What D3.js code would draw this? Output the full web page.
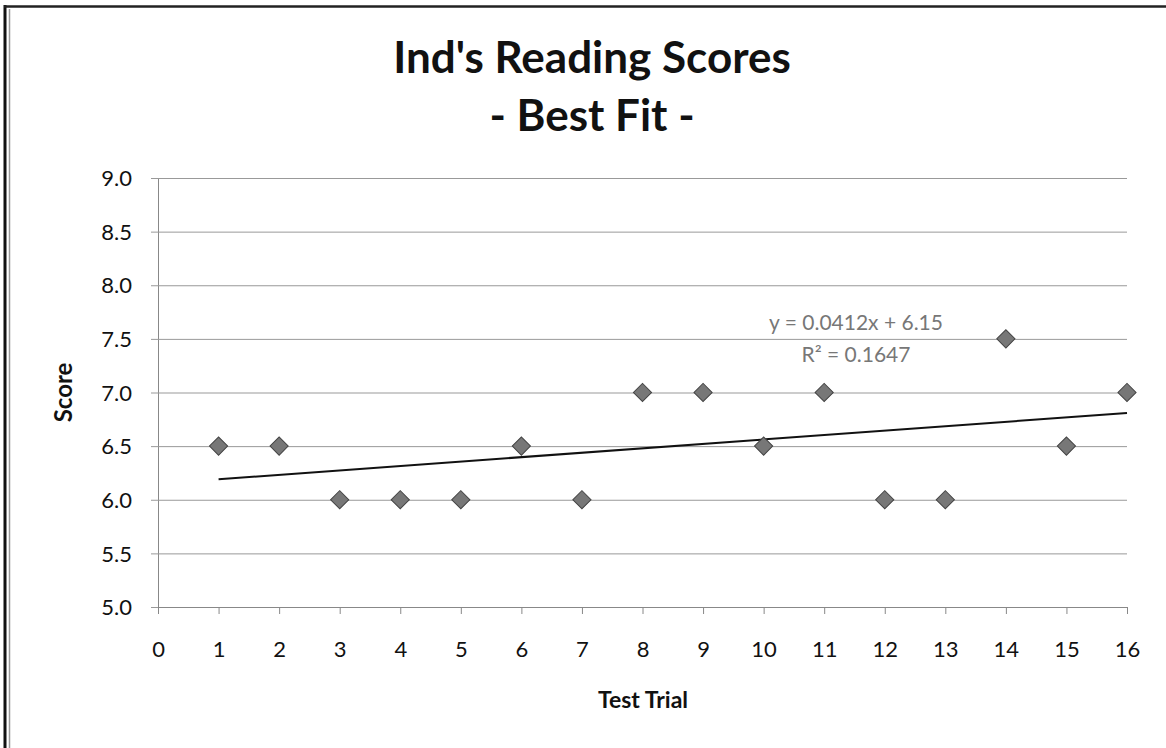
<!DOCTYPE html>
<html>
<head>
<meta charset="utf-8">
<script src="https://cdn.jsdelivr.net/npm/d3@7"></script>
<style>
  body { margin: 0; background: #fff; }
  text { font-family: Lato, "Open Sans", sans-serif; }
</style>
</head>
<body>
<div id="chart"></div>
<script>
// data
var trials = [1, 2, 3, 4, 5, 6, 7, 8, 9, 10, 11, 12, 13, 14, 15, 16];
var scores = [6.5, 6.5, 6.0, 6.0, 6.0, 6.5, 6.0, 7.0, 7.0, 6.5, 7.0, 6.0, 6.0, 7.5, 6.5, 7.0];
var yTicks = [5.0, 5.5, 6.0, 6.5, 7.0, 7.5, 8.0, 8.5, 9.0];
var xTicks = [0, 1, 2, 3, 4, 5, 6, 7, 8, 9, 10, 11, 12, 13, 14, 15, 16];
var slope = 0.0412, intercept = 6.15;
var eqLines = ["y = 0.0412x + 6.15", "R² = 0.1647"];
var titleLines = ["Ind's Reading Scores", "- Best Fit -"];

var W = 1166, H = 748;
var margin = {top: 178, right: 39, bottom: 141, left: 158},
    width = W - margin.left - margin.right,
    height = H - margin.top - margin.bottom;

var root = d3.select("#chart")
    .append("svg")
    .attr("width", W)
    .attr("height", H);

// frame (only left and top edges show in the scan)
root.append("line").attr("x1", 5).attr("y1", 5).attr("x2", 5).attr("y2", H)
    .attr("stroke", "#111").attr("stroke-width", 3);
root.append("line").attr("x1", 9.5).attr("y1", 9).attr("x2", 9.5).attr("y2", H)
    .attr("stroke", "#999").attr("stroke-width", 1.5);
root.append("line").attr("x1", 4).attr("y1", 6.5).attr("x2", W).attr("y2", 6.5)
    .attr("stroke", "#222").attr("stroke-width", 2.5);

var svg = root.append("g")
    .attr("transform", "translate(" + margin.left + "," + margin.top + ")");

var x = d3.scaleLinear().domain([0, 16]).range([0, width]);
var y = d3.scaleLinear().domain([5, 9]).range([height, 0]);

// gridlines + y axis
svg.append("g")
    .call(d3.axisLeft(y).tickValues(yTicks).tickSize(-width).tickFormat(d3.format(".1f")))
    .call(function (g) {
        g.select(".domain").attr("stroke", "#888");
        g.selectAll(".tick line").attr("stroke", "#999").attr("x1", -7);
        g.selectAll(".tick text").attr("font-size", 22).attr("fill", "#111")
            .attr("x", -26).attr("dy", "0.35em");
    });

// x axis
svg.append("g")
    .attr("transform", "translate(0," + height + ")")
    .call(d3.axisBottom(x).tickValues(xTicks).tickSize(7).tickPadding(27))
    .call(function (g) {
        g.select(".domain").attr("stroke", "#888");
        g.selectAll(".tick line").attr("stroke", "#888");
        g.selectAll(".tick text").attr("font-size", 22).attr("fill", "#111");
    });

// trend line
svg.append("line")
    .attr("x1", x(1)).attr("y1", y(slope * 1 + intercept))
    .attr("x2", x(16)).attr("y2", y(slope * 16 + intercept))
    .attr("stroke", "#111")
    .attr("stroke-width", 2);

// diamonds
var diamond = d3.symbol().type(d3.symbolSquare).size(165);
svg.append("g")
    .selectAll("path")
    .data(trials)
    .enter()
    .append("path")
    .attr("d", diamond)
    .attr("transform", function (d, i) {
        return "translate(" + x(d) + "," + y(scores[i]) + ") rotate(45)";
    })
    .attr("fill", "#777")
    .attr("stroke", "#444")
    .attr("stroke-width", 1);

// equation label
root.append("g")
    .selectAll("text")
    .data(eqLines)
    .enter()
    .append("text")
    .attr("x", 856)
    .attr("y", function (d, i) { return 330 + i * 32; })
    .attr("text-anchor", "middle")
    .attr("font-size", 21)
    .attr("fill", "#777")
    .text(function (d) { return d; });

// titles
root.append("g")
    .selectAll("text")
    .data(titleLines)
    .enter()
    .append("text")
    .attr("x", 592)
    .attr("y", function (d, i) { return 73 + i * 58; })
    .attr("text-anchor", "middle")
    .attr("font-size", 44).attr("font-weight", "bold").attr("fill", "#111")
    .text(function (d) { return d; });

root.append("text")
    .attr("transform", "translate(72," + (margin.top + height / 2) + ") rotate(-90)")
    .attr("text-anchor", "middle")
    .attr("font-size", 24).attr("font-weight", "bold").attr("fill", "#111")
    .text("Score");

root.append("text")
    .attr("x", 643).attr("y", 708)
    .attr("text-anchor", "middle")
    .attr("font-size", 23).attr("font-weight", "bold").attr("fill", "#111")
    .text("Test Trial");
</script>
</body>
</html>
